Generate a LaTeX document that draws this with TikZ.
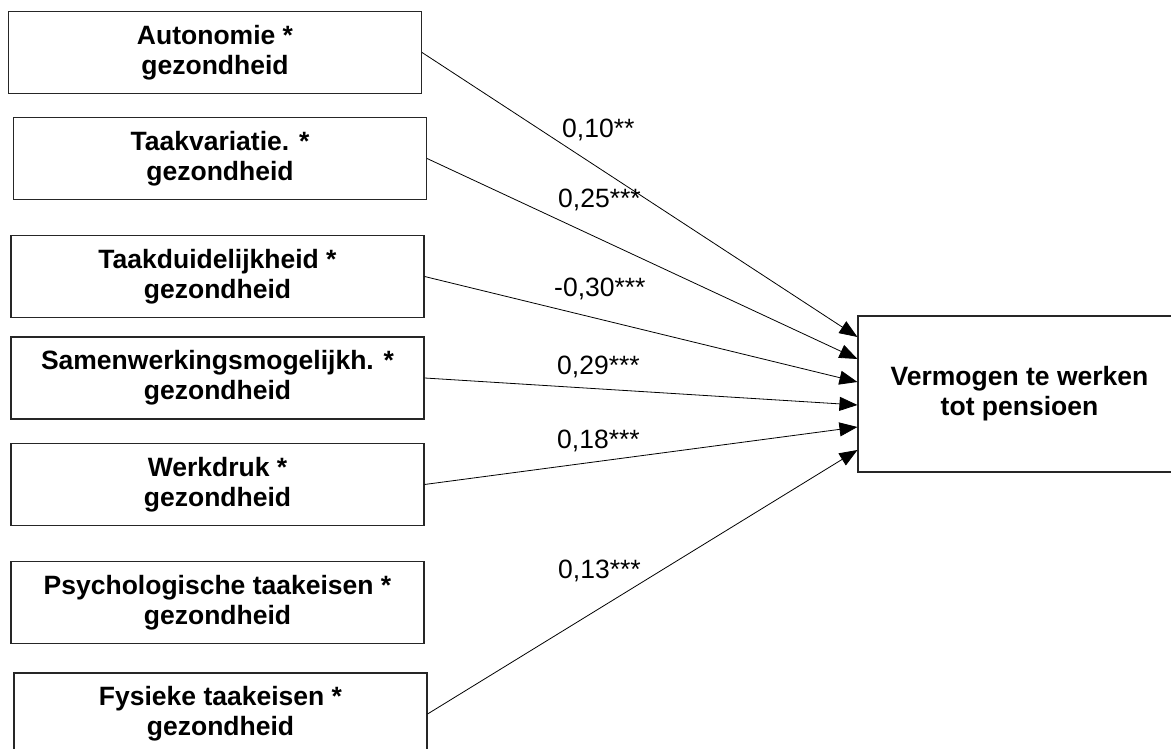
\documentclass[tikz,border=0pt]{standalone}
\usepackage{fontspec}
\setmainfont{Liberation Sans}
\usetikzlibrary{arrows.meta}
\begin{document}
\begin{tikzpicture}[x=1pt,y=1pt,
  varbox/.style={draw=black!85, line width=1.1pt, minimum width=413pt, minimum height=82pt,
    inner sep=0pt, align=center, font=\fontsize{26.5}{30}\selectfont\bfseries},
  outbox/.style={varbox, minimum width=323pt, minimum height=156pt},
  path/.style={line width=0.8pt, -{Triangle[length=18pt,width=14pt]}},
  coef/.style={anchor=base west, inner sep=0pt, font=\fontsize{26.5}{30}\selectfont}]
  \clip (0,0) rectangle (1171,749);

  % predictors (interaction terms)
  \node[varbox] (aut) at (215,696.5) {Autonomie *\\gezondheid};
  \node[varbox] (var) at (220,590.5) {Taakvariatie. *\\gezondheid};
  \node[varbox] (dui) at (217.5,472.5) {Taakduidelijkheid *\\gezondheid};
  \node[varbox] (sam) at (217.5,371) {Samenwerkingsmogelijkh. *\\gezondheid};
  \node[varbox] (wd)  at (217.5,264.5) {Werkdruk *\\gezondheid};
  \node[varbox] (psy) at (217.5,146.5) {Psychologische taakeisen *\\gezondheid};
  \node[varbox] (fys) at (220.5,35) {Fysieke taakeisen *\\gezondheid};

  % outcome
  \node[outbox] (out) at (1019.5,355) {Vermogen te werken\\tot pensioen};

  % paths
  \draw[path] (aut.east) -- ([yshift=57pt]out.west);
  \draw[path] (var.east) -- ([yshift=35pt]out.west);
  \draw[path] (dui.east) -- ([yshift=12pt]out.west);
  \draw[path] (sam.east) -- ([yshift=-11pt]out.west);
  \draw[path] (wd.east)  -- ([yshift=-33pt]out.west);
  \draw[path] (fys.east) -- ([yshift=-56pt]out.west);

  % coefficients
  \node[coef] (c1) at (562,611) {0,10**};
  \node[coef] (c2) at (558,541) {0,25***};
  \node[coef] (c3) at (554,452) {-0,30***};
  \node[coef] (c4) at (557,374) {0,29***};
  \node[coef] (c5) at (557,300) {0,18***};
  \node[coef] (c6) at (558,170) {0,13***};
\end{tikzpicture}
\end{document}
